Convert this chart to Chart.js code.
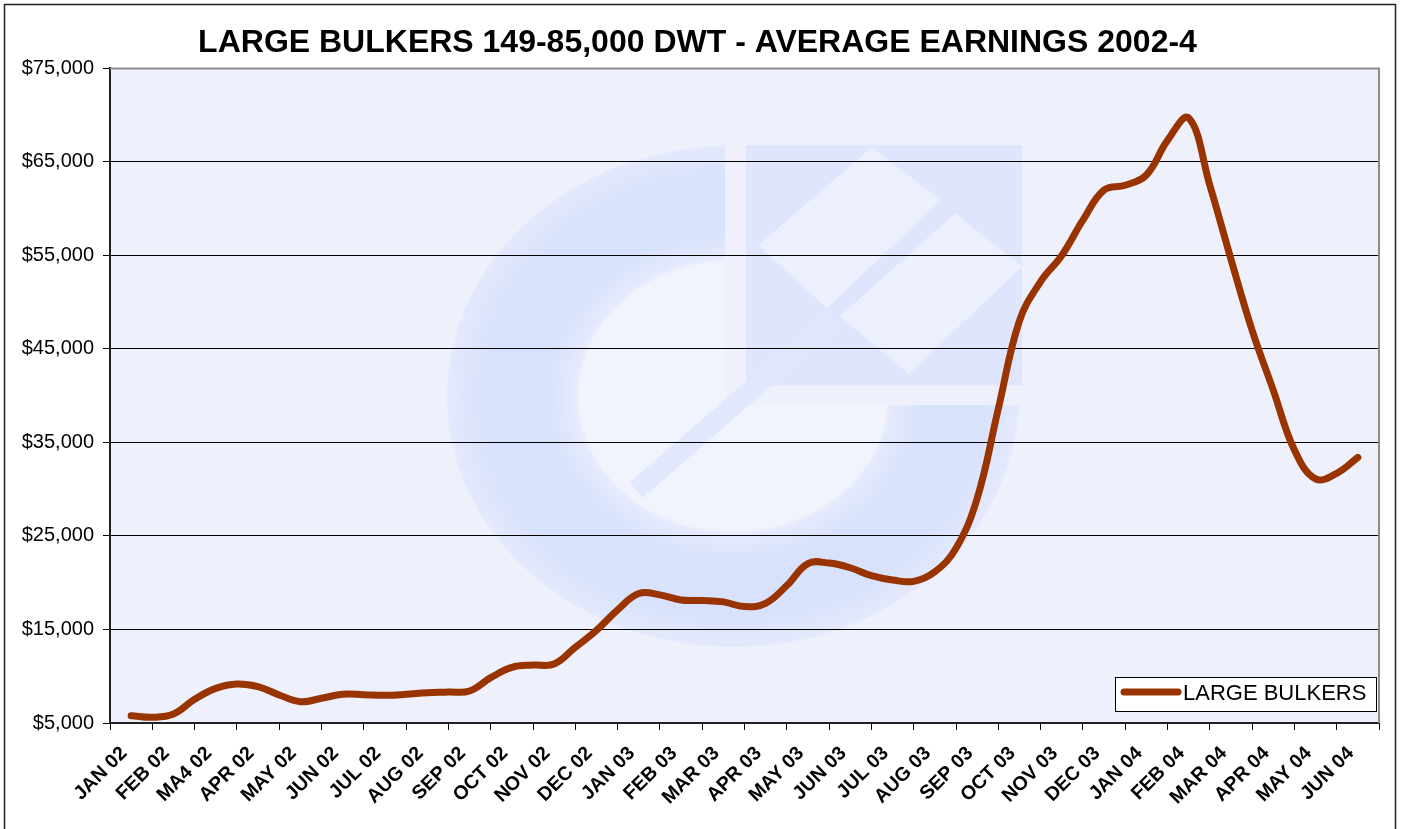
<!DOCTYPE html>
<html>
<head>
<meta charset="utf-8">
<title>Large Bulkers average earnings</title>
<script src="https://cdn.jsdelivr.net/npm/chart.js@4.4.0/dist/chart.umd.min.js"></script>
<style>
  html, body { margin: 0; padding: 0; background: #fff; }
  #wrap { width: 1401px; height: 829px; }
</style>
</head>
<body>
<div id="wrap"><canvas id="bulkChart"></canvas></div>
<script>
// ── DATA ──
const months = ['JAN 02', 'FEB 02', 'MA4 02', 'APR 02', 'MAY 02', 'JUN 02', 'JUL 02', 'AUG 02', 'SEP 02', 'OCT 02',
    'NOV 02', 'DEC 02', 'JAN 03', 'FEB 03', 'MAR 03', 'APR 03', 'MAY 03', 'JUN 03', 'JUL 03', 'AUG 03',
    'SEP 03', 'OCT 03', 'NOV 03', 'DEC 03', 'JAN 04', 'FEB 04', 'MAR 04', 'APR 04', 'MAY 04', 'JUN 04'];

// half-monthly readings, first one at mid JAN 02
const earnings = [5780, 5610, 5960, 7530, 8700, 9170, 8880, 8000, 7280, 7640,
    8070, 8030, 7960, 8070, 8240, 8310, 8420, 9850, 10950, 11200,
    11300, 13100, 14900, 17100, 18850, 18700, 18150, 18100, 17950, 17450,
    17800, 19700, 22050, 22100, 21600, 20750, 20290, 20150, 21170, 23680,
    29000, 38600, 48000, 52200, 55000, 58770, 62000, 62500, 63600, 67300,
    69700, 62500, 54600, 47000, 40600, 34200, 31100, 31700, 33400];
const pointsPerMonth = 2;

const yMin = 5000, yMax = 75000, yStep = 10000;
const seriesName = 'LARGE BULKERS';
const chartTitle = 'LARGE BULKERS 149-85,000 DWT - AVERAGE EARNINGS 2002-4';

const FONT = "'Liberation Sans', Arial, Helvetica, sans-serif";
Chart.defaults.font.family = FONT;
Chart.defaults.color = '#000';

// ── faint logo behind the plot ──
function drawLogo(ctx, a) {
    const sx = (a.right - a.left) / 1269, sy = (a.bottom - a.top) / 655;
    const X = v => a.left + (v - 110) * sx;
    const Y = v => a.top + (v - 68) * sy;
    const poly = pts => {
        ctx.beginPath();
        pts.forEach((p, i) => i ? ctx.lineTo(X(p[0]), Y(p[1])) : ctx.moveTo(X(p[0]), Y(p[1])));
        ctx.closePath();
        ctx.fill();
    };

    // C ring
    ctx.save();
    ctx.beginPath();
    ctx.rect(a.left, a.top, X(725) - a.left, a.bottom - a.top);
    ctx.rect(X(725), Y(405), a.right - X(725), a.bottom - Y(405));
    ctx.clip();
    ctx.translate(X(733), Y(396));
    ctx.scale(1, (251 / 286) * sy / sx);
    const R = 286 * sx, r = 156 * sx;
    const g = ctx.createRadialGradient(0, 0, r, 0, 0, R);
    g.addColorStop(0, 'rgb(230,235,253)');
    g.addColorStop(0.25, 'rgb(216,226,252)');
    g.addColorStop(0.7, 'rgb(216,226,252)');
    g.addColorStop(1, 'rgb(228,233,252)');
    ctx.fillStyle = g;
    ctx.beginPath();
    ctx.arc(0, 0, R, 0, Math.PI * 2);
    ctx.arc(0, 0, r, 0, Math.PI * 2, true);
    ctx.fill();
    // slightly whiter centre
    ctx.fillStyle = 'rgba(244,246,254,0.6)';
    ctx.beginPath();
    ctx.arc(0, 0, r - 2, 0, Math.PI * 2);
    ctx.fill();
    ctx.restore();

    // square block with arrow
    ctx.fillStyle = 'rgb(222,229,252)';
    ctx.fillRect(X(746), Y(145), X(1022) - X(746), Y(385) - Y(145));
    ctx.fillStyle = 'rgb(236,239,253)';
    poly([[758, 245], [872, 147], [941, 200], [827, 308]]);
    poly([[840, 316], [955, 213], [1022, 266], [909, 374]]);

    // diagonal shaft
    ctx.strokeStyle = 'rgb(225,231,252)';
    ctx.lineWidth = 20 * sx;
    ctx.beginPath();
    ctx.moveTo(X(636), Y(490));
    ctx.lineTo(X(832), Y(320));
    ctx.stroke();
}

const plotBackground = {
    id: 'plotBackground',
    beforeDraw(chart) {
        const { ctx, chartArea: a } = chart;
        ctx.save();
        ctx.fillStyle = '#eef0fc';
        ctx.fillRect(a.left, a.top, a.right - a.left, a.bottom - a.top);
        ctx.beginPath();
        ctx.rect(a.left, a.top, a.right - a.left, a.bottom - a.top);
        ctx.clip();
        drawLogo(ctx, a);
        ctx.restore();
    }
};

const frame = {
    id: 'frame',
    afterDraw(chart) {
        const { ctx, chartArea: a, width } = chart;
        ctx.save();
        // plot shadow top / right
        ctx.strokeStyle = '#8c8c8c';
        ctx.lineWidth = 2;
        ctx.beginPath();
        ctx.moveTo(a.left, a.top);
        ctx.lineTo(a.right, a.top);
        ctx.lineTo(a.right, a.bottom);
        ctx.stroke();
        // outer border
        ctx.strokeStyle = '#222';
        ctx.lineWidth = 1.5;
        ctx.strokeRect(4.5, 4.5, width - 10, 900);

        // legend box inside plot
        const ds = chart.data.datasets[0];
        const bw = 261, bh = 34;
        const bx = a.right - 3 - bw, by = a.bottom - 12 - bh;
        ctx.fillStyle = '#fff';
        ctx.fillRect(bx, by, bw, bh);
        ctx.strokeStyle = '#000';
        ctx.lineWidth = 1;
        ctx.strokeRect(bx + 0.5, by + 0.5, bw, bh);
        ctx.strokeStyle = ds.borderColor;
        ctx.lineWidth = 7;
        ctx.lineCap = 'round';
        ctx.beginPath();
        ctx.moveTo(bx + 9, by + 15);
        ctx.lineTo(bx + 63, by + 15);
        ctx.stroke();
        ctx.fillStyle = '#000';
        ctx.font = '22px ' + FONT;
        ctx.textBaseline = 'middle';
        ctx.fillText(ds.label, bx + 68, by + 17);
        ctx.restore();
    }
};

const ctx = document.getElementById('bulkChart').getContext('2d');
new Chart(ctx, {
    type: 'line',
    data: {
        labels: months,
        datasets: [{
            label: seriesName,
            data: earnings.map((v, i) => ({ x: i / pointsPerMonth, y: v })),
            xAxisID: 'x2',
            yAxisID: 'y',
            borderColor: '#993300',
            borderWidth: 7,
            borderCapStyle: 'round',
            borderJoinStyle: 'round',
            pointRadius: 0,
            tension: 0.4,
            fill: false
        }]
    },
    options: {
        responsive: true,
        maintainAspectRatio: false,
        animation: false,
        layout: { padding: { left: 16, right: 22, top: 0, bottom: 0 } },
        plugins: {
            legend: { display: false },
            tooltip: { enabled: false },
            title: {
                display: true,
                text: chartTitle,
                color: '#000',
                font: { size: 32, weight: 'bold' },
                padding: { top: 24, bottom: 6 }
            }
        },
        scales: {
            x: {
                type: 'category',
                position: 'bottom',
                offset: true,
                grid: { offset: true, drawOnChartArea: false, drawTicks: true, tickLength: 7, color: '#000' },
                border: { display: true, color: '#222', width: 2 },
                ticks: {
                    autoSkip: false, maxRotation: 45, minRotation: 45, padding: 12, labelOffset: -7,
                    color: '#000', font: { size: 19.5, weight: 'bold' }
                },
                afterFit: s => { s.height = 106; }
            },
            x2: {
                type: 'linear',
                display: false,
                min: -0.5,
                max: months.length - 0.5
            },
            y: {
                min: yMin,
                max: yMax,
                grid: { color: '#000', lineWidth: 1, tickLength: 7 },
                border: { display: true, color: '#222', width: 2 },
                ticks: {
                    stepSize: yStep, padding: 9, color: '#000', font: { size: 20 },
                    callback: v => '$' + v.toLocaleString('en-US')
                },
                afterFit: s => { s.width = 94; }
            }
        }
    },
    plugins: [plotBackground, frame]
});
</script>
</body>
</html>
